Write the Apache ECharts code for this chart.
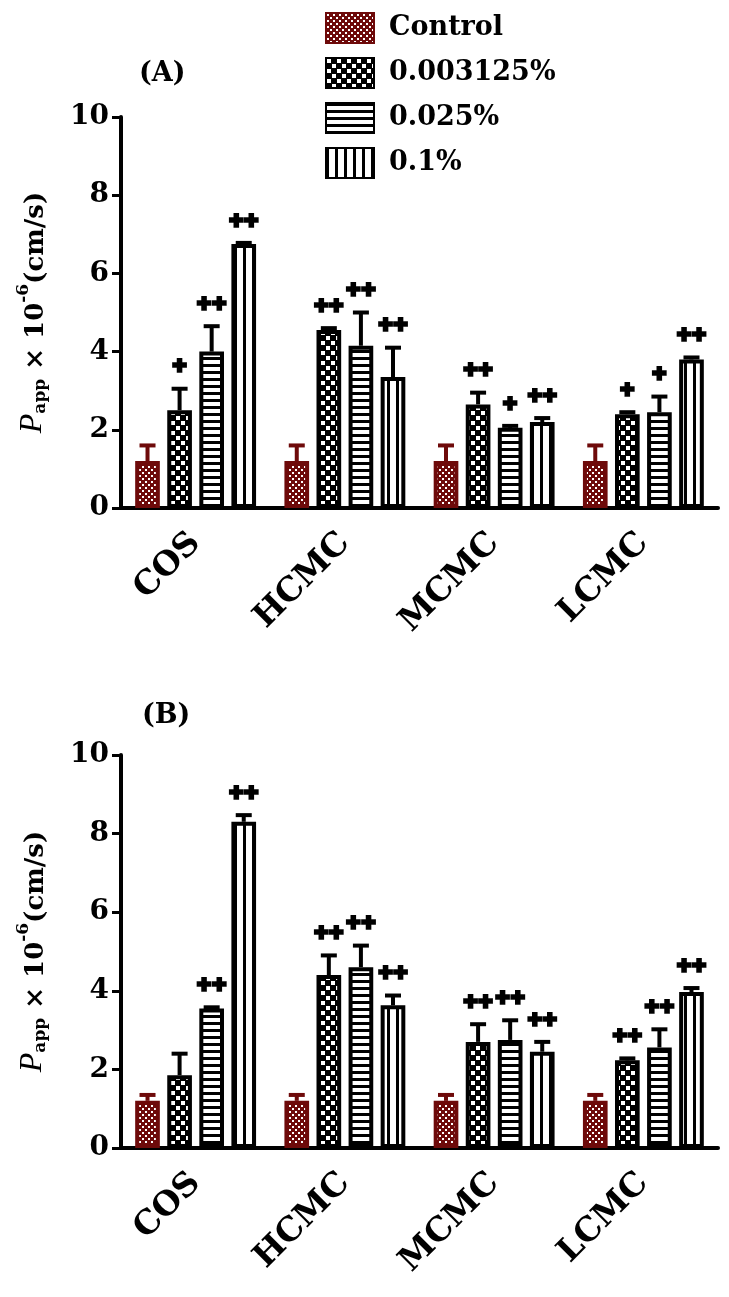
<!DOCTYPE html>
<html>
<head>
<meta charset="utf-8">
<script src="https://cdn.jsdelivr.net/npm/echarts@6/dist/echarts.min.js"></script>
<style>
html,body{margin:0;padding:0;background:#fff;}
#c{width:729px;height:1297px;}
</style>
</head>
<body>
<div id="c"></div>
<script>
// ---------- data ----------
const categories = ['COS', 'HCMC', 'MCMC', 'LCMC'];
const seriesNames = ['Control', '0.003125%', '0.025%', '0.1%'];
const yTicks = [0, 2, 4, 6, 8, 10];

// Panel A
const aControl    = [1.2, 1.2, 1.2, 1.2];
const aControlErr = [0.4, 0.4, 0.4, 0.4];
const aLow        = [2.5, 4.55, 2.65, 2.4];
const aLowErr     = [0.55, 0.05, 0.3, 0.05];
const aMid        = [4.0, 4.15, 2.05, 2.45];
const aMidErr     = [0.65, 0.85, 0.05, 0.4];
const aHigh       = [6.75, 3.35, 2.2, 3.8];
const aHighErr    = [0.03, 0.75, 0.1, 0.05];
const aLowSig     = ['+', '++', '++', '+'];
const aMidSig     = ['++', '++', '+', '+'];
const aHighSig    = ['++', '++', '++', '++'];

// Panel B
const bControl    = [1.2, 1.2, 1.2, 1.2];
const bControlErr = [0.15, 0.15, 0.15, 0.15];
const bLow        = [1.85, 4.4, 2.7, 2.23];
const bLowErr     = [0.55, 0.5, 0.45, 0.05];
const bMid        = [3.55, 4.6, 2.75, 2.56];
const bMidErr     = [0.03, 0.55, 0.5, 0.46];
const bHigh       = [8.3, 3.63, 2.45, 3.97];
const bHighErr    = [0.17, 0.25, 0.25, 0.1];
const bLowSig     = ['', '++', '++', '++'];
const bMidSig     = ['++', '++', '++', '++'];
const bHighSig    = ['++', '++', '++', '++'];

// ---------- styles ----------
const RED = '#6e0a0a';
const FONT = 'DejaVu Serif';
const CAT_GAP = 0.19, BAR_GAP = 0.3;

function makePattern(kind) {
  const cv = document.createElement('canvas');
  const ctx = cv.getContext('2d');
  if (kind === 'control') {
    cv.width = 6; cv.height = 6;
    ctx.fillStyle = RED; ctx.fillRect(0, 0, 6, 6);
    ctx.fillStyle = '#fff';
    ctx.fillRect(1, 1, 2, 2); ctx.fillRect(4, 4, 2, 2);
  } else if (kind === 'checker') {
    cv.width = 10; cv.height = 10;
    ctx.fillStyle = '#000'; ctx.fillRect(0, 0, 10, 10);
    ctx.fillStyle = '#fff';
    ctx.fillRect(1, 1, 4, 4); ctx.fillRect(6, 6, 4, 4);
  } else if (kind === 'hstripe') {
    cv.width = 6; cv.height = 7;
    ctx.fillStyle = '#fff'; ctx.fillRect(0, 0, 6, 7);
    ctx.fillStyle = '#000'; ctx.fillRect(0, 0, 6, 3);
  } else {
    cv.width = 9; cv.height = 6;
    ctx.fillStyle = '#fff'; ctx.fillRect(0, 0, 9, 6);
    ctx.fillStyle = '#000'; ctx.fillRect(0, 0, 3, 6);
  }
  return { image: cv, repeat: 'repeat' };
}
const fills = [makePattern('control'), makePattern('checker'), makePattern('hstripe'), makePattern('vstripe')];
const borders = [RED, '#000', '#000', '#000'];

const panels = [
  { vals: [aControl, aLow, aMid, aHigh], errs: [aControlErr, aLowErr, aMidErr, aHighErr],
    sigs: [null, aLowSig, aMidSig, aHighSig], top: 117, height: 391 },
  { vals: [bControl, bLow, bMid, bHigh], errs: [bControlErr, bLowErr, bMidErr, bHighErr],
    sigs: [null, bLowSig, bMidSig, bHighSig], top: 755, height: 393 }
];

const grid = [], xAxis = [], yAxis = [], series = [];
panels.forEach((p, pi) => {
  grid.push({ left: 121, right: 11, top: p.top, height: p.height });
  xAxis.push({
    type: 'category', gridIndex: pi, data: categories,
    axisLine: { lineStyle: { color: '#000', width: 4 } },
    axisTick: { alignWithLabel: true, length: 9, lineStyle: { color: '#000', width: 3 } },
    axisLabel: { rotate: 45, margin: 30, color: '#000', fontFamily: FONT, fontWeight: 'bold', fontSize: 33 }
  });
  yAxis.push({
    type: 'value', gridIndex: pi, min: 0, max: 10, interval: 2,
    splitLine: { show: false },
    axisLine: { show: true, lineStyle: { color: '#000', width: 4 } },
    axisTick: { show: true, length: 9, lineStyle: { color: '#000', width: 3 } },
    axisLabel: { margin: 12, color: '#000', fontFamily: FONT, fontWeight: 'bold', fontSize: 28,
      formatter: v => yTicks.includes(v) ? String(v) : '' },
    name: '{p|P}{sub|app}{t| × 10}{sup|-6}{t|(cm/s)}',
    nameLocation: 'middle', nameRotate: 90, nameGap: 72,
    nameTextStyle: {
      rich: {
        p: { fontFamily: 'Liberation Serif', fontStyle: 'italic', fontSize: 32, color: '#000', verticalAlign: 'bottom', lineHeight: 34 },
        sub: { fontFamily: FONT, fontWeight: 'bold', fontSize: 17, color: '#000', verticalAlign: 'bottom', lineHeight: 30 },
        t: { fontFamily: FONT, fontWeight: 'bold', fontSize: 26, color: '#000', verticalAlign: 'bottom', lineHeight: 34 },
        sup: { fontFamily: FONT, fontWeight: 'bold', fontSize: 17, color: '#000', verticalAlign: 'top', lineHeight: 34 }
      }
    }
  });
  seriesNames.forEach((name, si) => {
    series.push({
      type: 'bar', name, xAxisIndex: pi, yAxisIndex: pi,
      data: p.vals[si],
      barCategoryGap: (CAT_GAP * 100) + '%', barGap: (BAR_GAP * 100) + '%',
      itemStyle: { color: fills[si], borderColor: borders[si], borderWidth: 4 },
      emphasis: { disabled: true }
    });
  });
  const rows = [], sigText = [];
  for (let si = 0; si < 4; si++) {
    for (let ci = 0; ci < categories.length; ci++) {
      rows.push([ci, si, p.vals[si][ci], p.errs[si][ci]]);
      sigText.push(p.sigs[si] ? p.sigs[si][ci] : '');
    }
  }
  series.push({
    type: 'custom', xAxisIndex: pi, yAxisIndex: pi, data: rows, z: 5,
    renderItem: function (params, api) {
      const ci = api.value(0), si = api.value(1), v = api.value(2), e = api.value(3);
      const base = api.coord([ci, v]);
      const topP = api.coord([ci, v + e]);
      const B = api.size([1, 0])[0];
      const used = B * (1 - CAT_GAP);
      const w = used / (4 + 3 * BAR_GAP);
      const x = base[0] - used / 2 + si * w * (1 + BAR_GAP) + w / 2;
      const col = si === 0 ? RED : '#000';
      const children = [
        { type: 'line', shape: { x1: x, y1: base[1], x2: x, y2: topP[1] }, style: { stroke: col, lineWidth: 4 } },
        { type: 'line', shape: { x1: x - 8, y1: topP[1], x2: x + 8, y2: topP[1] }, style: { stroke: col, lineWidth: 4 } }
      ];
      const s = sigText[params.dataIndex];
      if (s) {
        children.push({ type: 'text', style: {
          text: s, x: x, y: topP[1] - 22,
          align: 'center', verticalAlign: 'middle',
          fontFamily: 'DejaVu Sans', fontWeight: 'bold', fontSize: 18, fill: '#000',
          stroke: '#000', lineWidth: 3.5
        } });
      }
      return { type: 'group', children };
    }
  });
});

const chart = echarts.init(document.getElementById('c'), null, { renderer: 'canvas' });
chart.setOption({
  animation: false,
  backgroundColor: '#fff',
  grid, xAxis, yAxis, series,
  legend: {
    data: seriesNames, orient: 'vertical', left: 320, top: 7,
    itemWidth: 48, itemHeight: 30, itemGap: 13, icon: 'rect',
    textStyle: { fontFamily: FONT, fontWeight: 'bold', fontSize: 27, color: '#000', padding: [0, 0, 0, 10] },
    selectedMode: false
  },
  graphic: [
    { type: 'text', left: 139, top: 60, style: { text: '(A)', fontFamily: FONT, fontWeight: 'bold', fontSize: 27, fill: '#000' } },
    { type: 'text', left: 142, top: 702, style: { text: '(B)', fontFamily: FONT, fontWeight: 'bold', fontSize: 27, fill: '#000' } }
  ]
});
</script>
</body>
</html>
